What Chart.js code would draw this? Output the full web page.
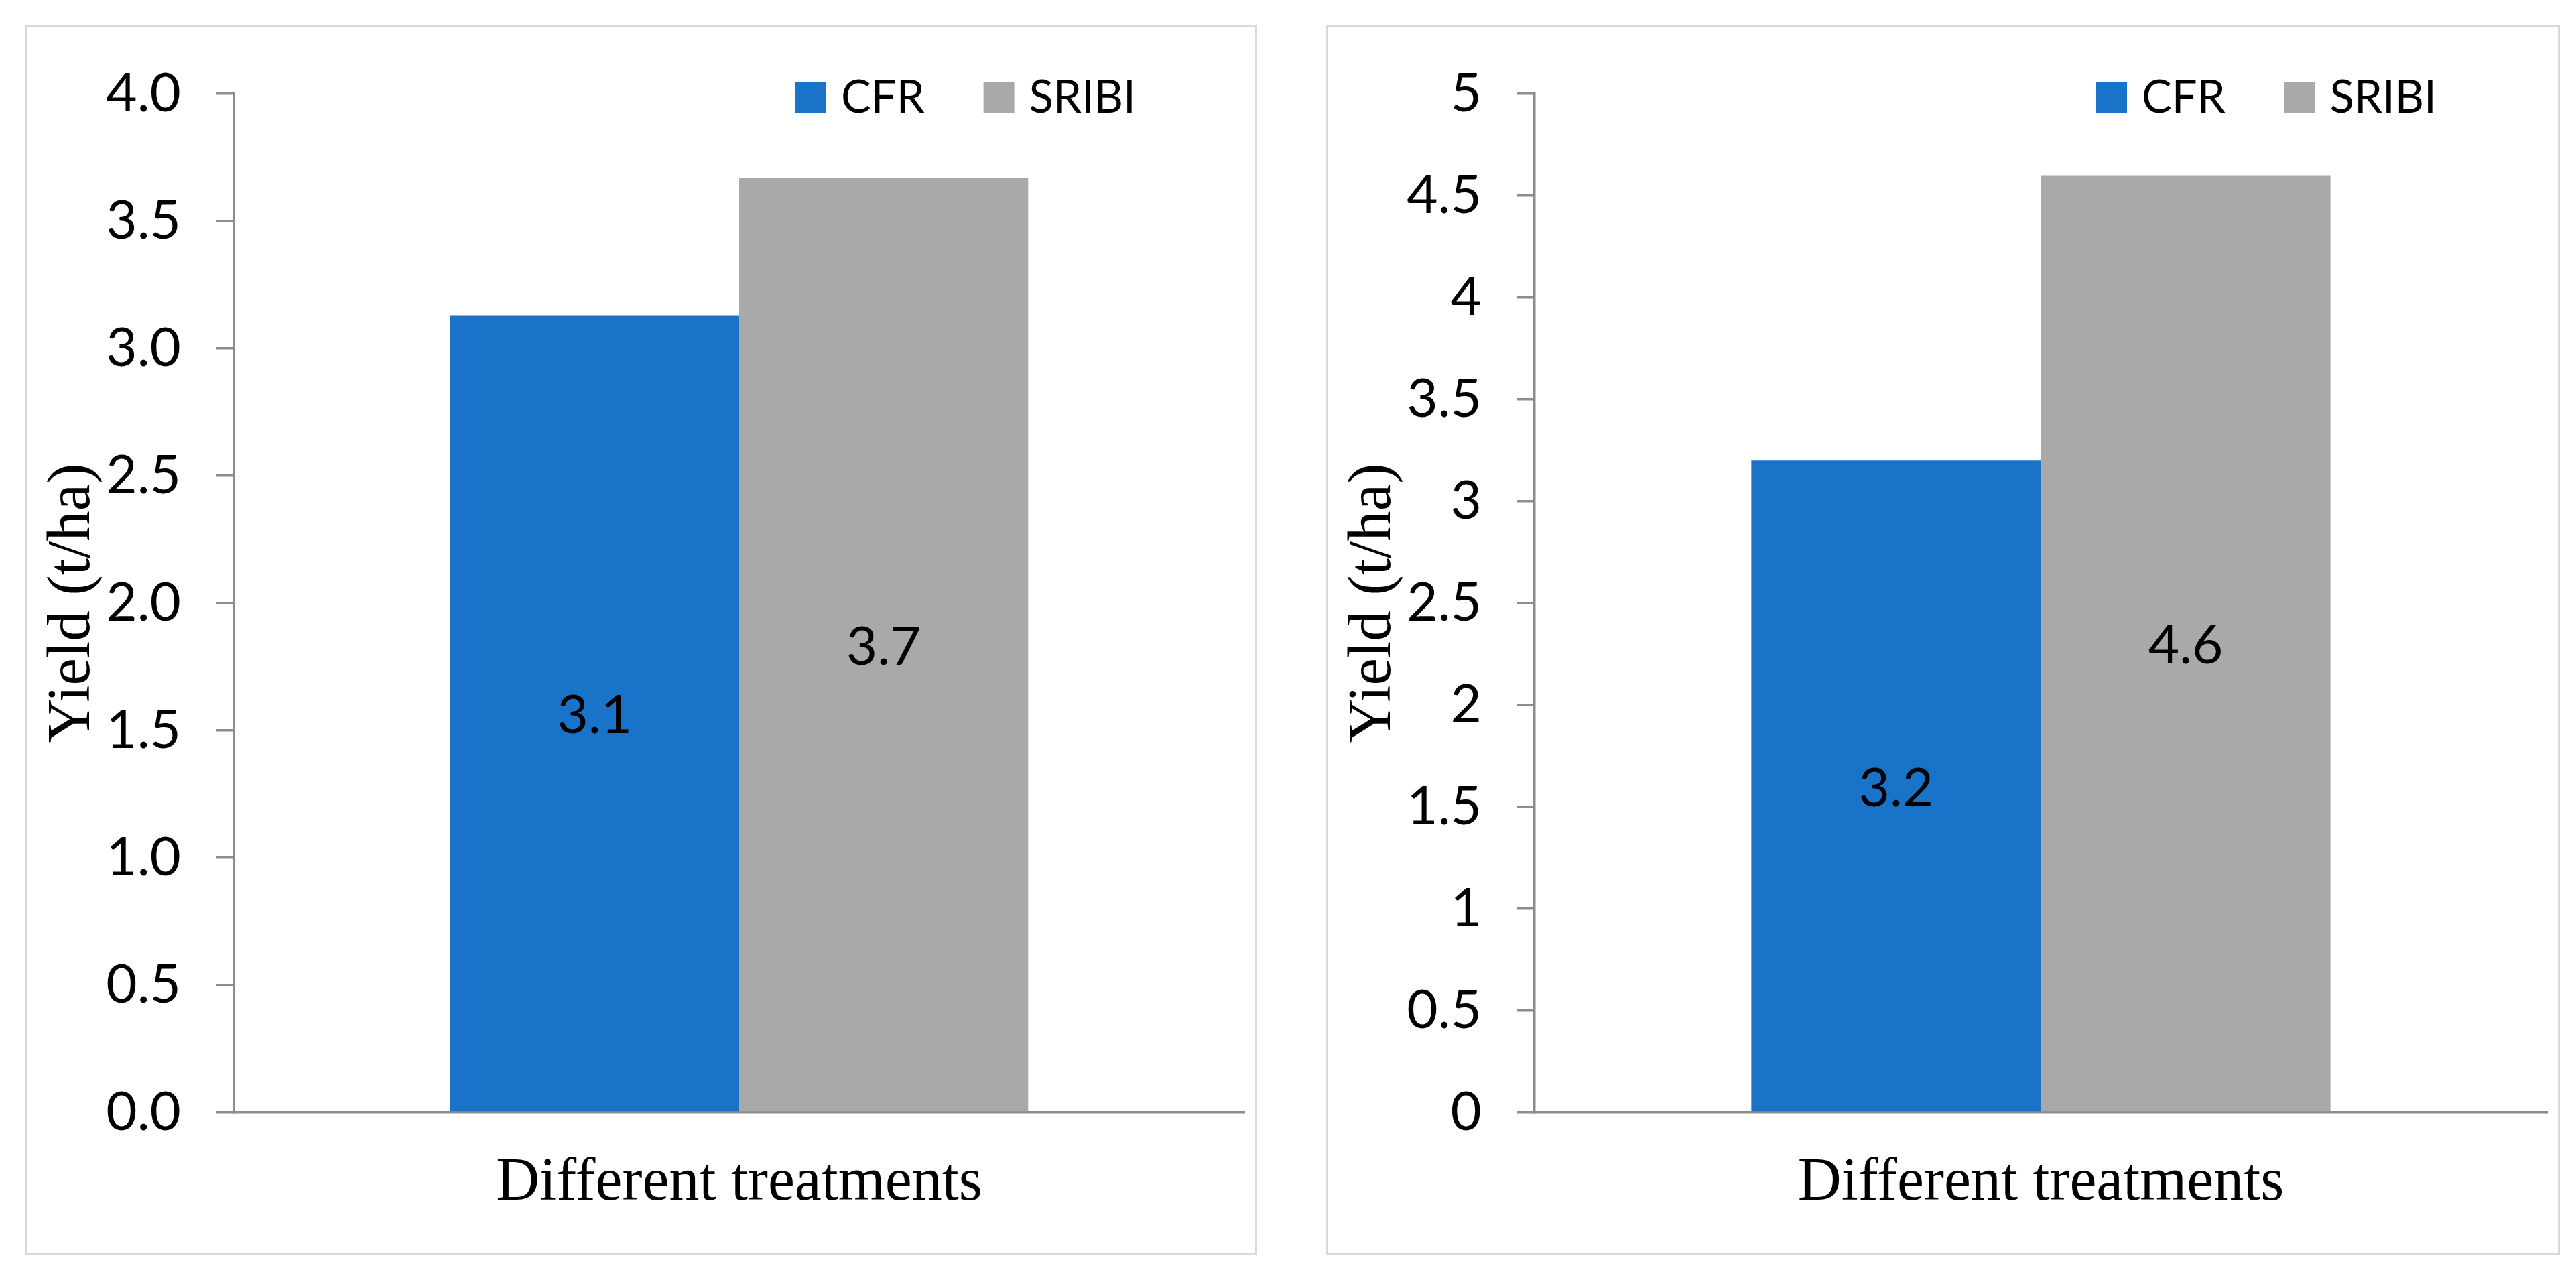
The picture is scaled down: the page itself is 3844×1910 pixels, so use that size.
<!DOCTYPE html>
<html>
<head>
<meta charset="utf-8">
<title>Yield by treatment</title>
<script src="https://cdn.jsdelivr.net/npm/chart.js@4.4.1/dist/chart.umd.min.js"></script>
<style>
  html, body { margin:0; padding:0; background:#fff; }
  body { width:3844px; height:1910px; position:relative; overflow:hidden; }
  .panel { position:absolute; top:37px; height:1835px; border:3px solid #d9d9d9; box-sizing:border-box; background:#fff; }
  #panel-left { left:37px; width:1839px; }
  #panel-right { left:1978px; width:1842px; }
  .panel .wrap { position:absolute; left:0; top:0; right:0; bottom:0; }
</style>
</head>
<body>
<div class="panel" id="panel-left"><div class="wrap"><canvas id="chart-left"></canvas></div></div>
<div class="panel" id="panel-right"><div class="wrap"><canvas id="chart-right"></canvas></div></div>

<script>
// ---------- Data
const categories = [''];
const seriesNames = ['CFR', 'SRIBI'];
const seriesColors = ['#1873C9', '#A9A9A9'];

const leftCFR = [3.13];
const leftSRIBI = [3.67];
const rightCFR = [3.2];
const rightSRIBI = [4.6];

const leftTickLabels = ['0.0','0.5','1.0','1.5','2.0','2.5','3.0','3.5','4.0'];
const rightTickLabels = ['0','0.5','1','1.5','2','2.5','3','3.5','4','4.5','5'];

const yTitle = 'Yield (t/ha)';
const xTitle = 'Different treatments';

// ---------- Styling
const sansFont = 'Lato, "Open Sans", sans-serif';
const serifFont = '"Times New Roman", "Liberation Serif", serif';
const axisGray = '#8c8c8c';
const numberSize = 80;   // ticks + bar values
const legendSize = 67;

// value labels centred inside each bar
const barLabels = {
  id: 'barLabels',
  afterDatasetsDraw(chart) {
    const ctx = chart.ctx;
    ctx.save();
    ctx.font = numberSize + 'px ' + sansFont;
    ctx.fillStyle = '#000';
    ctx.textAlign = 'center';
    ctx.textBaseline = 'middle';
    chart.data.datasets.forEach((ds, i) => {
      chart.getDatasetMeta(i).data.forEach((bar, j) => {
        ctx.fillText(ds.data[j].toFixed(1), bar.x, (bar.y + bar.base) / 2 + 4);
      });
    });
    ctx.restore();
  }
};

// Excel-like legend sitting inside the top of the plot
const topLegend = {
  id: 'topLegend',
  afterDraw(chart) {
    const ctx = chart.ctx;
    const box = 46;
    let x = chart.chartArea.left + 838;
    ctx.save();
    ctx.font = legendSize + 'px ' + sansFont;
    ctx.textAlign = 'left';
    ctx.textBaseline = 'alphabetic';
    chart.data.datasets.forEach(ds => {
      ctx.fillStyle = ds.backgroundColor;
      ctx.fillRect(x, 82, box, box);
      x += box + 22;
      ctx.fillStyle = '#000';
      ctx.fillText(ds.label, x, 128);
      x += ctx.measureText(ds.label).width + 88;
    });
    ctx.restore();
  }
};

function makeChart(id, cfr, sribi, maxY, tickLabels) {
  const ctx = document.getElementById(id).getContext('2d');
  return new Chart(ctx, {
    type: 'bar',
    data: {
      labels: categories,
      datasets: [
        { label: seriesNames[0], data: cfr, backgroundColor: seriesColors[0], borderWidth: 0 },
        { label: seriesNames[1], data: sribi, backgroundColor: seriesColors[1], borderWidth: 0 }
      ]
    },
    options: {
      responsive: true,
      maintainAspectRatio: false,
      animation: false,
      categoryPercentage: 0.572,
      barPercentage: 1,
      layout: { padding: { top: 92, right: 16, bottom: 0, left: 0 } },
      plugins: { legend: { display: false }, tooltip: { enabled: false } },
      scales: {
        x: {
          ticks: { display: false },
          grid: { display: false },
          border: { display: true, color: axisGray, width: 3.5 },
          title: { display: true, text: xTitle, color: '#000', font: { family: serifFont, size: 90 }, padding: { top: 0, bottom: 49 } },
          afterFit(scale) { scale.height = 209; }
        },
        y: {
          min: 0,
          max: maxY,
          ticks: {
            stepSize: 0.5,
            color: '#000',
            padding: 52,
            font: { family: sansFont, size: numberSize },
            callback: (v, i) => tickLabels[i]
          },
          grid: { display: true, drawOnChartArea: false, drawTicks: true, tickLength: 27, color: axisGray, lineWidth: 3.5 },
          border: { display: true, color: axisGray, width: 3.5 },
          title: { display: true, text: yTitle, color: '#000', font: { family: serifFont, size: 91 }, padding: { top: 14, bottom: 0 } },
          afterFit(scale) { scale.width = 309; }
        }
      }
    },
    plugins: [barLabels, topLegend]
  });
}

const leftChart = makeChart('chart-left', leftCFR, leftSRIBI, 4, leftTickLabels);
const rightChart = makeChart('chart-right', rightCFR, rightSRIBI, 5, rightTickLabels);
</script>
</body>
</html>
